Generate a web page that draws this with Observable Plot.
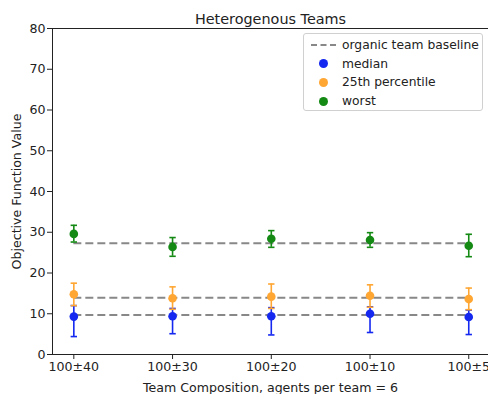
<!DOCTYPE html>
<html>
<head>
<meta charset="utf-8">
<script src="https://cdn.jsdelivr.net/npm/d3@7"></script>
<script src="https://cdn.jsdelivr.net/npm/@observablehq/plot@0.6"></script>
<style>
  html, body { margin: 0; padding: 0; background: #fff; }
  #wrap { position: relative; width: 488px; height: 394px; overflow: hidden; font-family: "DejaVu Sans", sans-serif; }
  #legend { position: absolute; left: 303px; top: 33px; width: 180px; height: 78px; box-sizing: border-box;
    border: 1px solid #d0d0d0; border-radius: 3px; background: rgba(255,255,255,0.85); font-size: 12.3px; color: #222; }
  .row { position: absolute; left: 0; height: 18px; display: flex; align-items: center; }
  .sym { width: 38px; display: flex; justify-content: center; align-items: center; }
  .dot { width: 9px; height: 9px; border-radius: 50%; }
  .dash { width: 25px; border-top: 2px dashed #888; }
</style>
</head>
<body>
<div id="wrap"></div>
<script>
const title = "Heterogenous Teams";
const xLabel = "Team Composition, agents per team = 6";
const yLabel = "Objective Function Value";
const categories = ["100±40", "100±30", "100±20", "100±10", "100±5"];
const yTicks = [0, 10, 20, 30, 40, 50, 60, 70, 80];

const seriesNames = ["median", "25th percentile", "worst"];
const seriesColors = ["#1428f0", "#ffa633", "#148a14"];
const baselineName = "organic team baseline";
const baselines = [9.7, 13.9, 27.3];

const medianVal = [9.3, 9.4, 9.4, 10.0, 9.2];
const medianLo  = [4.4, 5.1, 4.8, 5.4, 4.9];
const medianHi  = [12.0, 11.3, 11.5, 11.7, 10.9];

const p25Val = [14.8, 13.8, 14.2, 14.4, 13.6];
const p25Lo  = [12.0, 11.1, 11.3, 11.6, 11.0];
const p25Hi  = [17.5, 16.6, 17.3, 17.1, 16.3];

const worstVal = [29.6, 26.4, 28.4, 28.1, 26.7];
const worstLo  = [27.6, 24.1, 26.3, 26.3, 24.0];
const worstHi  = [31.7, 28.7, 30.4, 29.9, 29.5];

const seriesData = [
  [medianVal, medianLo, medianHi],
  [p25Val, p25Lo, p25Hi],
  [worstVal, worstLo, worstHi]
];

const rows = [];
seriesData.forEach(([v, lo, hi], s) => {
  categories.forEach((c, i) => rows.push({s, i, v: v[i], lo: lo[i], hi: hi[i]}));
});

const cap = { draw(ctx, size) { const w = 3.2; ctx.moveTo(-w, 0); ctx.lineTo(w, 0); } };

const xMin = -0.216, xMax = 4.2;

const marks = [
  Plot.ruleY(baselines, {y: d => d, x1: 0, x2: categories.length - 1, stroke: "#888", strokeWidth: 2, strokeDasharray: "8,4"})
];
seriesData.forEach((_, s) => {
  const d = rows.filter(r => r.s === s);
  const color = seriesColors[s];
  marks.push(
    Plot.ruleX(d, {x: "i", y1: "lo", y2: "hi", stroke: color, strokeWidth: 1.6}),
    Plot.dot(d, {x: "i", y: "lo", symbol: cap, stroke: color, strokeWidth: 1.6, fill: "none"}),
    Plot.dot(d, {x: "i", y: "hi", symbol: cap, stroke: color, strokeWidth: 1.6, fill: "none"}),
    Plot.dot(d, {x: "i", y: "v", r: 4.3, fill: color, stroke: "none"})
  );
});

const chart = Plot.plot({
  width: 488,
  height: 394,
  marginLeft: 52,
  marginRight: 0,
  marginTop: 28,
  marginBottom: 40,
  style: {fontFamily: "DejaVu Sans, sans-serif", fontSize: "12.6px", color: "#222", background: "#fff"},
  x: {domain: [xMin, xMax]},
  y: {domain: [0, 80]},
  marks: [
    Plot.ruleX([xMin], {stroke: "#222"}),
    Plot.ruleY([0, 80], {x1: xMin, x2: xMax + 0.2, stroke: "#222"}),
    Plot.axisY({ticks: yTicks, tickSize: 5, tickPadding: 2, label: yLabel, labelAnchor: "center", labelArrow: "none", labelOffset: 40, fontSize: 12.6}),
    Plot.axisX({ticks: categories.map((c, i) => i), tickFormat: i => categories[i], tickSize: 5, tickPadding: 3, label: xLabel, labelAnchor: "center", labelArrow: "none", labelOffset: 37, fontSize: 12.6}),
    ...marks,
    Plot.text([title], {frameAnchor: "top", dy: -15, fontSize: 14.4, fill: "#222"})
  ]
});

const wrap = document.getElementById("wrap");
wrap.appendChild(chart);

const legend = document.createElement("div");
legend.id = "legend";
const items = [{name: baselineName, type: "dash"}].concat(seriesNames.map((n, k) => ({name: n, type: "dot", color: seriesColors[k]})));
items.forEach((it, k) => {
  const row = document.createElement("div");
  row.className = "row";
  row.style.top = (2 + k * 18.7) + "px";
  const sym = document.createElement("div");
  sym.className = "sym";
  const inner = document.createElement("div");
  if (it.type === "dash") inner.className = "dash";
  else { inner.className = "dot"; inner.style.background = it.color; }
  sym.appendChild(inner);
  const txt = document.createElement("span");
  txt.textContent = it.name;
  row.appendChild(sym);
  row.appendChild(txt);
  legend.appendChild(row);
});
wrap.appendChild(legend);
</script>
</body>
</html>
